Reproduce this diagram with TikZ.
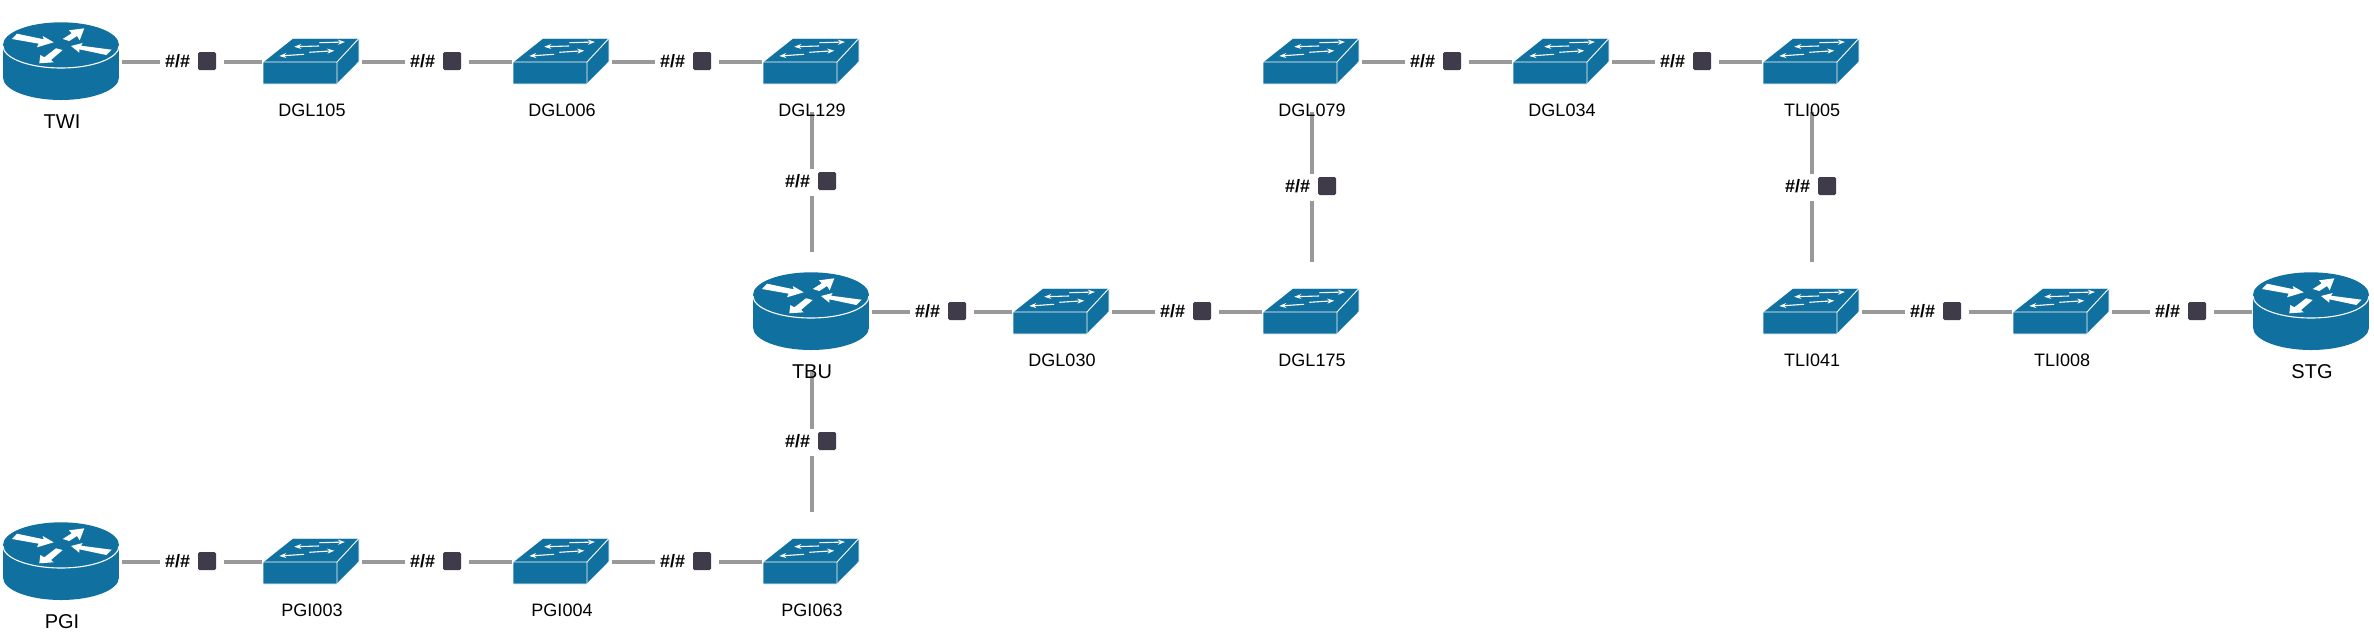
\documentclass[tikz,border=0pt]{standalone}
\usepackage{fontspec}
\setmainfont{Liberation Sans}
\usetikzlibrary{arrows.meta}
\definecolor{devblue}{HTML}{10709F}
\definecolor{linkgray}{HTML}{999999}
\definecolor{tagdark}{HTML}{3F3B4A}
\newcommand{\routericon}{
\fill[devblue] (-59,-17) rectangle (57,15.5);
\fill[devblue] (-1,-17) ellipse [x radius=58,y radius=22.7];
\fill[devblue] (-1,15.5) ellipse [x radius=58,y radius=22.5];
\draw[white,line width=1.1pt] (-59,-16) arc [start angle=180,end angle=0,x radius=58,y radius=22];
\fill[white] (-50,-23) -- (-45,-28.3) -- (-18.3,-22.7) -- (-19.3,-26) -- (-8.3,-19.7) -- (-25,-14.7) -- (-23.3,-18.3) -- cycle;
\fill[white] (22.3,-33.7) -- (17.7,-21.7) -- (15,-26) -- (7.3,-21) -- (0.7,-23) -- (9.7,-28.7) -- (7,-31.7) -- cycle;
\fill[white] (9,-16) -- (20.7,-19) -- (19,-16.3) -- (49.7,-12.3) -- (44.3,-7) -- (17.3,-12.7) -- (17.3,-9.3) -- cycle;
\fill[white] (-22.7,1.3) -- (-21.7,-7) -- (-17.7,-4.7) -- (-6,-13.7) -- (0.7,-12) -- (-11,-2) -- (-8.3,0.3) -- cycle;
}
\newcommand{\switchicon}{
\filldraw[devblue,draw=white,line width=0.7pt] (-49,0) -- (-19.3,-23.7) -- (47,-23.7) -- (47,-0.3) -- (25,22) -- (-49,22) -- cycle;
\draw[white,line width=0.9pt] (-49,0) -- (25,0) -- (47,-23.7) (25,0) -- (25,22);
\draw[white,line width=1.1pt,-{Stealth[length=7pt,width=5pt]}] (7,-16) -- (-17.7,-15.3);
\draw[white,line width=1.1pt,-{Stealth[length=7pt,width=5pt]}] (7.3,-19.3) -- (33,-20);
\draw[white,line width=1.1pt,-{Stealth[length=7pt,width=5pt]}] (-2.7,-9.7) -- (22.3,-11.3);
\draw[white,line width=1.1pt,-{Stealth[length=7pt,width=5pt]}] (-8,-7.7) -- (-32.7,-6);
}
\tikzset{
router/.style={rectangle,minimum size=120pt,inner sep=0pt,outer sep=0pt,path picture={\begin{scope}[shift={(path picture bounding box.center)}]\routericon\end{scope}}},
switch/.style={rectangle,minimum size=100pt,inner sep=0pt,outer sep=0pt,path picture={\begin{scope}[shift={(path picture bounding box.center)}]\switchicon\end{scope}}},
routername/.style={anchor=base,inner sep=0pt,font=\fontsize{20}{22}\selectfont},
switchname/.style={anchor=base,inner sep=0pt,font=\fontsize{18}{20}\selectfont},
link/.style={color=linkgray,line width=4pt},
tagbox/.style={rectangle,fill=white,text=black,font=\bfseries\fontsize{18}{20}\selectfont,text width=54pt,text height=15pt,text depth=4pt,align=left,inner xsep=5pt,inner ysep=0pt,minimum height=27pt,path picture={\fill[tagdark,rounded corners=1.5pt] ([shift={(6,-10)}]path picture bounding box.center) rectangle ([shift={(24,8)}]path picture bounding box.center);}}
}
\begin{document}
\begin{tikzpicture}[x=1pt,y=-1pt]
\useasboundingbox (0,0) rectangle (2374,638);
\node[router] (twi) at (62,62) {};
\node[switch] (dgl105) at (312,62) {};
\node[switch] (dgl006) at (562,62) {};
\node[switch] (dgl129) at (812,62) {};
\node[switch] (dgl079) at (1312,62) {};
\node[switch] (dgl034) at (1562,62) {};
\node[switch] (tli005) at (1812,62) {};
\node[router] (tbu) at (812,312) {};
\node[switch] (dgl030) at (1062,312) {};
\node[switch] (dgl175) at (1312,312) {};
\node[switch] (tli041) at (1812,312) {};
\node[switch] (tli008) at (2062,312) {};
\node[router] (stg) at (2312,312) {};
\node[router] (pgi) at (62,562) {};
\node[switch] (pgi003) at (312,562) {};
\node[switch] (pgi004) at (562,562) {};
\node[switch] (pgi063) at (812,562) {};
\path[link] (twi) edge node[tagbox] (tag1) {\#/\#} (dgl105) (dgl105) edge node[tagbox] (tag2) {\#/\#} (dgl006) (dgl006) edge node[tagbox] (tag3) {\#/\#} (dgl129);
\path[link] (dgl129) edge node[tagbox] (tag4) {\#/\#} (tbu) (tbu) edge node[tagbox] (tag5) {\#/\#} (pgi063);
\path[link] (pgi) edge node[tagbox] (tag6) {\#/\#} (pgi003) (pgi003) edge node[tagbox] (tag7) {\#/\#} (pgi004) (pgi004) edge node[tagbox] (tag8) {\#/\#} (pgi063);
\path[link] (tbu) edge node[tagbox] (tag9) {\#/\#} (dgl030) (dgl030) edge node[tagbox] (tag10) {\#/\#} (dgl175) (dgl175) edge node[tagbox] (tag11) {\#/\#} (dgl079);
\path[link] (dgl079) edge node[tagbox] (tag12) {\#/\#} (dgl034) (dgl034) edge node[tagbox] (tag13) {\#/\#} (tli005) (tli005) edge node[tagbox] (tag14) {\#/\#} (tli041);
\path[link] (tli041) edge node[tagbox] (tag15) {\#/\#} (tli008) (tli008) edge node[tagbox] (tag16) {\#/\#} (stg);
\node[routername] (twiname) at (62,128) {TWI};
\node[switchname] (dgl105name) at (312,116) {DGL105};
\node[switchname] (dgl006name) at (562,116) {DGL006};
\node[switchname] (dgl129name) at (812,116) {DGL129};
\node[switchname] (dgl079name) at (1312,116) {DGL079};
\node[switchname] (dgl034name) at (1562,116) {DGL034};
\node[switchname] (tli005name) at (1812,116) {TLI005};
\node[routername] (tbuname) at (812,378) {TBU};
\node[switchname] (dgl030name) at (1062,366) {DGL030};
\node[switchname] (dgl175name) at (1312,366) {DGL175};
\node[switchname] (tli041name) at (1812,366) {TLI041};
\node[switchname] (tli008name) at (2062,366) {TLI008};
\node[routername] (stgname) at (2312,378) {STG};
\node[routername] (pginame) at (62,628) {PGI};
\node[switchname] (pgi003name) at (312,616) {PGI003};
\node[switchname] (pgi004name) at (562,616) {PGI004};
\node[switchname] (pgi063name) at (812,616) {PGI063};
\end{tikzpicture}
\end{document}
